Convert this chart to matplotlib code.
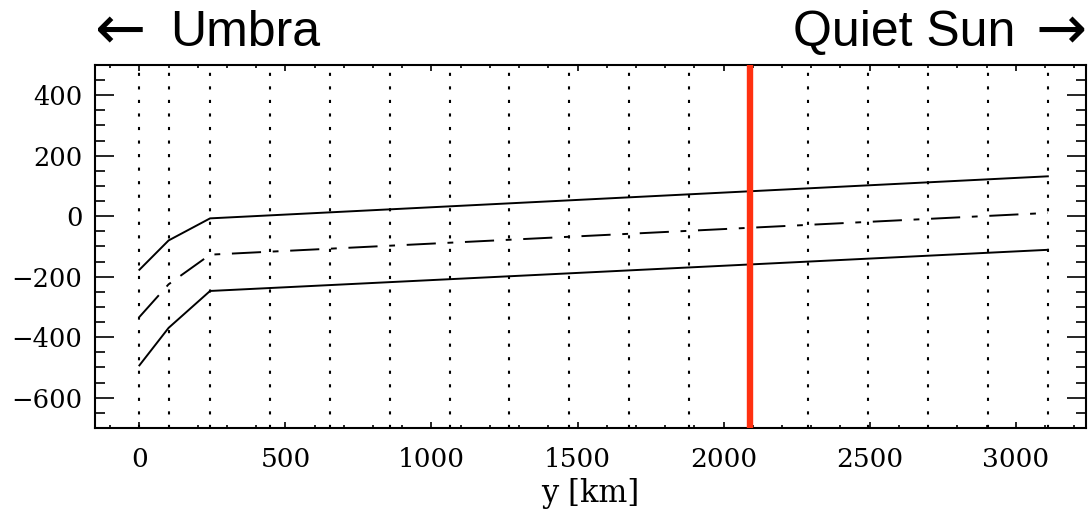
import matplotlib
matplotlib.use("Agg")
import matplotlib.pyplot as plt
from matplotlib.ticker import MultipleLocator

# positions along the slit (km)
y_km = [0, 100, 242, 3110]
upper = [-177, -80, -7, 132]
middle = [-333, -225, -127, 11]
lower = [-493, -369, -247, -111]

grid_x = [0, 100, 242, 447, 652, 857, 1062, 1267, 1472, 1677, 1882,
          2290, 2495, 2700, 2905, 3110]
red_x = 2090

x_ticks = [0, 500, 1000, 1500, 2000, 2500, 3000]
y_ticks = [-600, -400, -200, 0, 200, 400]

fig = plt.figure(figsize=(10.88, 5.13), dpi=100)
ax = fig.add_axes([0.0873, 0.1657, 0.9107, 0.7076])

for gx in grid_x:
    ax.axvline(gx, color='black', lw=1.5, linestyle=(0, (1.5, 5)), zorder=1)
ax.axvline(red_x, color='#ff3010', lw=4.6, zorder=3)

ax.plot(y_km, upper, color='black', lw=1.4, zorder=2)
ax.plot(y_km, middle, color='black', lw=1.4, linestyle=(0, (15, 6, 3, 6)), zorder=2)
ax.plot(y_km, lower, color='black', lw=1.4, zorder=2)

ax.set_xlim(-152, 3240)
ax.set_ylim(-700, 500)
ax.set_xticks(x_ticks)
ax.set_yticks(y_ticks)
ax.xaxis.set_minor_locator(MultipleLocator(100))
ax.yaxis.set_minor_locator(MultipleLocator(50))
ax.tick_params(which='both', direction='in', top=True, right=True, width=1.2)
ax.tick_params(axis='y', which='major', length=14, pad=9)
ax.tick_params(axis='y', which='minor', length=7)
ax.tick_params(axis='x', which='major', length=4.5, pad=14)
ax.tick_params(axis='x', which='minor', length=2.5)
for s in ax.spines.values():
    s.set_linewidth(1.5)

for lab in ax.get_xticklabels():
    lab.set_family('DejaVu Serif')
    lab.set_fontsize(19)
for lab in ax.get_yticklabels():
    lab.set_family('DejaVu Serif')
    lab.set_fontsize(18.5)

ax.set_xlabel('y [km]', family='DejaVu Serif', fontsize=22, labelpad=4)

fig.text(170 / 1088, 0.935, 'Umbra', family='Liberation Sans',
         fontsize=36, ha='left', va='center')
fig.text(95 / 1088, 0.935, '\u2190', family='DejaVu Sans',
         fontsize=44, ha='left', va='center')
fig.text(1015 / 1088, 0.935, 'Quiet Sun', family='Liberation Sans',
         fontsize=36, ha='right', va='center')
fig.text(1087 / 1088, 0.935, '\u2192', family='DejaVu Sans',
         fontsize=44, ha='right', va='center')

fig.savefig('out.png', dpi=100)
